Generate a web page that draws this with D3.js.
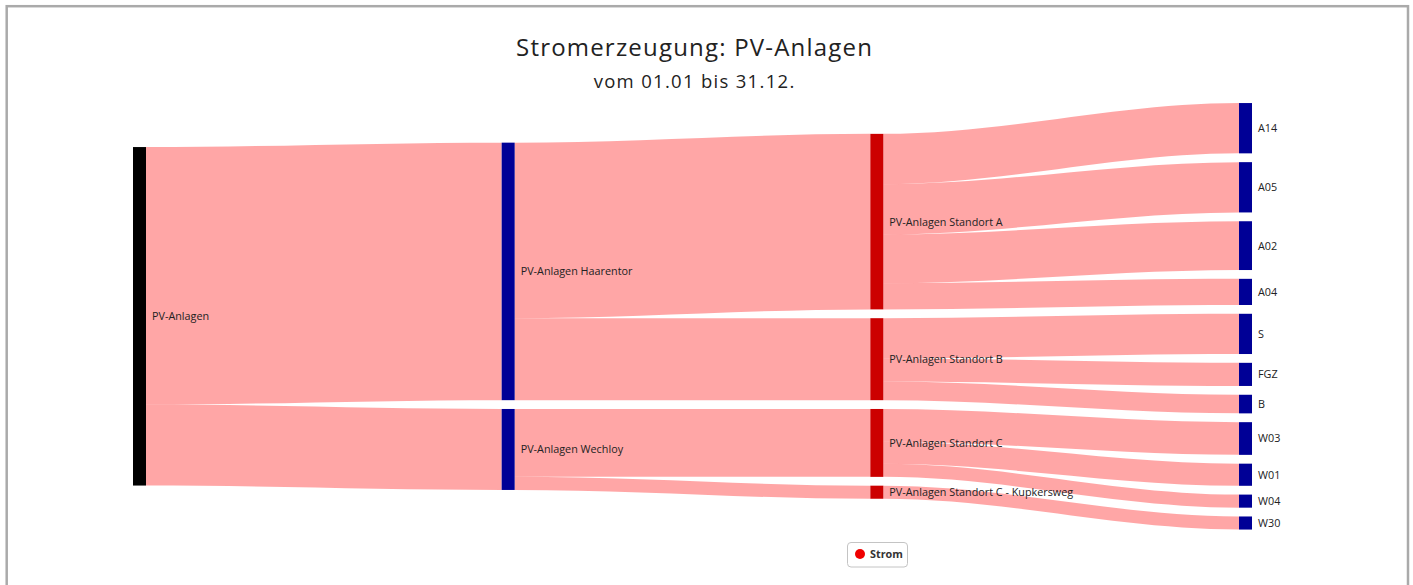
<!DOCTYPE html>
<html>
<head>
<meta charset="utf-8">
<script src="https://cdn.jsdelivr.net/npm/d3@7"></script>
<style>
  html, body { margin: 0; padding: 0; background: #fff; }
  svg { display: block; }
</style>
</head>
<body>
<svg id="chart" width="1413" height="585"></svg>
<script>
// ---------- data ----------
const nodeNames = [
  "PV-Anlagen",
  "PV-Anlagen Haarentor", "PV-Anlagen Wechloy",
  "PV-Anlagen Standort A", "PV-Anlagen Standort B", "PV-Anlagen Standort C", "PV-Anlagen Standort C - Kupkersweg",
  "A14", "A05", "A02", "A04", "S", "FGZ", "B", "W03", "W01", "W04", "W30"
];
const nodeColumns = [0, 1, 1, 2, 2, 2, 2, 3, 3, 3, 3, 3, 3, 3, 3, 3, 3, 3];
const linkSources = [
  "PV-Anlagen", "PV-Anlagen",
  "PV-Anlagen Haarentor", "PV-Anlagen Haarentor",
  "PV-Anlagen Wechloy", "PV-Anlagen Wechloy",
  "PV-Anlagen Standort A", "PV-Anlagen Standort A", "PV-Anlagen Standort A", "PV-Anlagen Standort A",
  "PV-Anlagen Standort B", "PV-Anlagen Standort B", "PV-Anlagen Standort B",
  "PV-Anlagen Standort C", "PV-Anlagen Standort C", "PV-Anlagen Standort C",
  "PV-Anlagen Standort C - Kupkersweg"
];
const linkTargets = [
  "PV-Anlagen Haarentor", "PV-Anlagen Wechloy",
  "PV-Anlagen Standort A", "PV-Anlagen Standort B",
  "PV-Anlagen Standort C", "PV-Anlagen Standort C - Kupkersweg",
  "A14", "A05", "A02", "A04",
  "S", "FGZ", "B",
  "W03", "W01", "W04",
  "W30"
];
const linkValues = [
  256, 80.5,
  174.5, 81.5,
  67.5, 13,
  50, 50, 48.5, 26,
  40, 23, 18.5,
  32.5, 22, 13,
  13
];
const seriesName = "Strom";
const titleText = "Stromerzeugung: PV-Anlagen";
const subtitleText = "vom 01.01 bis 31.12.";

// ---------- styles / layout constants ----------
const columnColors = ["#000000", "#000096", "#cc0000", "#000096"];
const linkColor = "#ff0000";
const linkOpacity = 0.35;
const nodeWidth = 13;
const nodePadding = 8.8;
const plotTop = 103, plotBottom = 529.5, plotCenter = 316.3;
const colLeft = 133, colRight = 1239;
const curveFactor = 0.33;

const svg = d3.select("#chart");

// frame
svg.append("rect")
  .attr("x", 6.7).attr("y", 6.2)
  .attr("width", 1401.3).attr("height", 620)
  .attr("fill", "#fff").attr("stroke", "#aaaaaa").attr("stroke-width", 2.5);

// ---------- layout ----------
const nodes = nodeNames.map((name, i) => ({ name, col: nodeColumns[i], inLinks: [], outLinks: [] }));
const byName = new Map(nodes.map(n => [n.name, n]));
const links = linkValues.map((v, i) => ({
  source: byName.get(linkSources[i]),
  target: byName.get(linkTargets[i]),
  value: v
}));
links.forEach(l => { l.source.outLinks.push(l); l.target.inLinks.push(l); });
nodes.forEach(n => {
  n.value = Math.max(d3.sum(n.inLinks, l => l.value), d3.sum(n.outLinks, l => l.value));
});

const columns = d3.groups(nodes, n => n.col).sort((a, b) => a[0] - b[0]).map(g => g[1]);
const maxCount = d3.max(columns, c => c.length);
const maxColValue = d3.max(columns, c => d3.sum(c, n => n.value));

const x = d3.scaleLinear().domain([0, columns.length - 1]).range([colLeft, colRight]);
const ky = d3.scaleLinear().domain([0, maxColValue])
  .range([0, (plotBottom - plotTop) - nodePadding * (maxCount - 1)]);

columns.forEach(col => {
  const h = d3.sum(col, n => ky(n.value)) + nodePadding * (col.length - 1);
  let y = plotCenter - h / 2;
  col.forEach(n => {
    n.x0 = x(n.col); n.x1 = n.x0 + nodeWidth;
    n.y0 = y; n.y1 = y + ky(n.value);
    y = n.y1 + nodePadding;
  });
});
nodes.forEach(n => {
  n.outLinks.sort((a, b) => a.target.y0 - b.target.y0);
  n.inLinks.sort((a, b) => a.source.y0 - b.source.y0);
  let yo = n.y0;
  n.outLinks.forEach(l => { l.sy0 = yo; yo += ky(l.value); l.sy1 = yo; });
  let yi = n.y0;
  n.inLinks.forEach(l => { l.ty0 = yi; yi += ky(l.value); l.ty1 = yi; });
});

const colDistance = x(1) - x(0);
function linkPath(l) {
  const x0 = l.source.x1, x1 = l.target.x0;
  const c = colDistance * curveFactor;
  const p = d3.path();
  p.moveTo(x0, l.sy0);
  p.bezierCurveTo(x0 + c, l.sy0, x1 - c, l.ty0, x1, l.ty0);
  p.lineTo(x1, l.ty1);
  p.bezierCurveTo(x1 - c, l.ty1, x0 + c, l.sy1, x0, l.sy1);
  p.closePath();
  return p.toString();
}

// links
svg.append("g").selectAll("path").data(links).join("path")
  .attr("d", linkPath)
  .attr("fill", linkColor)
  .attr("fill-opacity", linkOpacity);

// nodes
svg.append("g").selectAll("rect").data(nodes).join("rect")
  .attr("x", d => d.x0).attr("y", d => d.y0)
  .attr("width", nodeWidth).attr("height", d => d.y1 - d.y0)
  .attr("fill", d => columnColors[d.col]);

// labels
svg.append("g").selectAll("text").data(nodes).join("text")
  .attr("x", d => d.x1 + 6)
  .attr("y", d => (d.y0 + d.y1) / 2)
  .attr("dy", "0.36em")
  .attr("font-family", "'Open Sans', sans-serif")
  .attr("font-size", "10.8px")
  .attr("fill", "#222")
  .text(d => d.name);

// title
svg.append("text")
  .attr("x", 694.6).attr("y", 56)
  .attr("text-anchor", "middle")
  .attr("font-family", "'Open Sans', sans-serif")
  .attr("font-size", "24px")
  .attr("letter-spacing", "1.2px")
  .attr("fill", "#222")
  .text(titleText);
svg.append("text")
  .attr("x", 694.6).attr("y", 88)
  .attr("text-anchor", "middle")
  .attr("font-family", "'Open Sans', sans-serif")
  .attr("font-size", "18.5px")
  .attr("letter-spacing", "1.3px")
  .attr("fill", "#222")
  .text(subtitleText);

// legend
const lg = svg.append("g");
lg.append("rect")
  .attr("x", 847.5).attr("y", 542.5).attr("width", 60).attr("height", 24.5)
  .attr("rx", 3.5).attr("fill", "#fff").attr("stroke", "#c4c4c4").attr("stroke-width", 1);
lg.append("circle").attr("cx", 860).attr("cy", 554).attr("r", 5).attr("fill", "#f00000");
lg.append("text")
  .attr("x", 870).attr("y", 558)
  .attr("font-family", "'Open Sans', sans-serif")
  .attr("font-size", "10.8px").attr("font-weight", "bold")
  .attr("fill", "#333")
  .text(seriesName);
</script>
</body>
</html>
